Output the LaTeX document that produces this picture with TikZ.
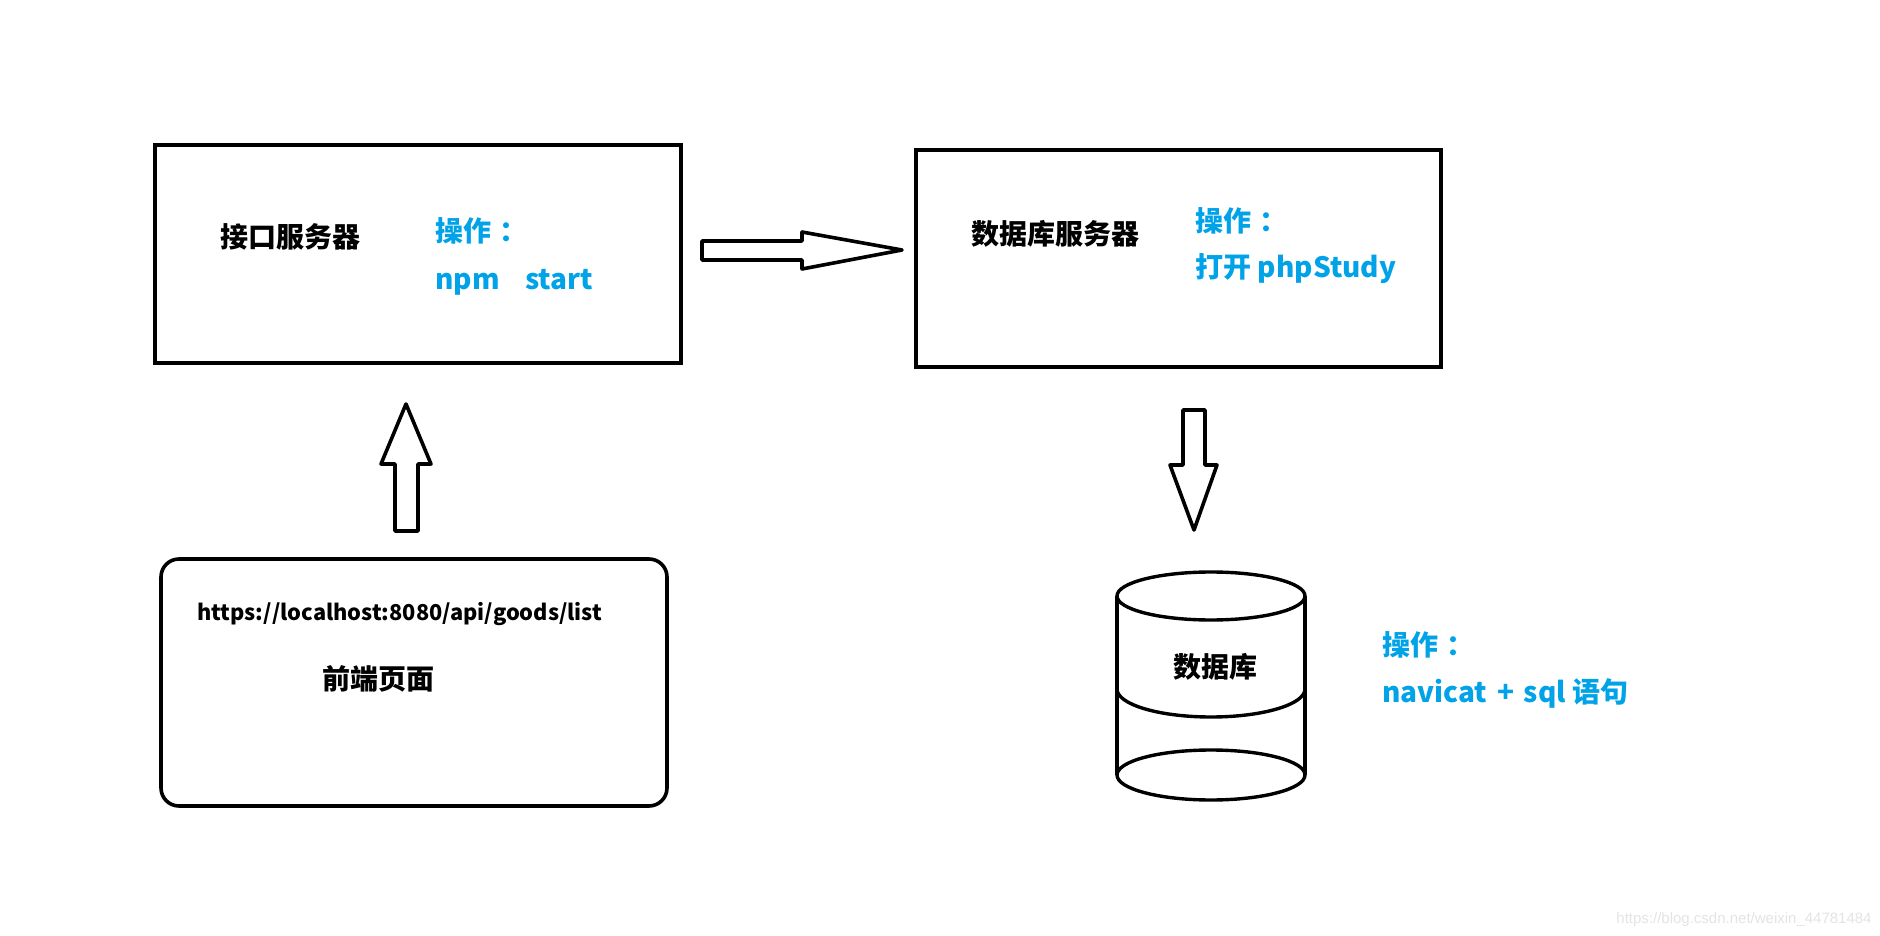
\documentclass[tikz,border=0pt]{standalone}
\usepackage{fontspec}
\setmainfont{Noto Sans CJK SC}
\newfontfamily\wmfont{Liberation Sans}
\tikzset{
  srvbox/.style={draw, line width=2pt, inner sep=0pt},
  pagebox/.style={draw, line width=1.8pt, rounded corners=9pt, inner sep=0pt},
  blockarrow/.style={draw, line width=1.8pt, line join=round, fill=white},
  cyl/.style={draw, line width=1.7pt},
  label/.style={inner sep=0pt, font=\fontsize{14pt}{16pt}\selectfont\bfseries},
  optext/.style={label, anchor=west, color={rgb, 255:red, 0; green, 162; blue, 232 }},
}
\begin{document}
\begin{tikzpicture}[x=0.5pt,y=0.5pt,yscale=-1,xscale=1]
%set diagram left start at 0, and has height of 936
\path[use as bounding box, fill=white] (0,0) rectangle (1880,936);

%Shape: Rectangle
\node[srvbox, minimum width=263pt, minimum height=109pt] (apisrv) at (418,254) {};
%Shape: Rectangle
\node[srvbox, minimum width=262.5pt, minimum height=108.5pt] (dbsrv) at (1178.5,258.5) {};
%Shape: Rounded Rect
\node[pagebox, minimum width=253pt, minimum height=123.5pt] (page) at (414,682.5) {};

%Text
\node[label] (apititle) at (290,237) {接口服务器};
\node[optext] (apiop) at (435,231) {操作\hspace{0.3em}：};
\node[optext] (apicmd) at (435,282) {npm\hspace{0.9em}start};
%Text
\node[label] (dbsrvtitle) at (1055,234) {数据库服务器};
\node[optext] (dbsrvop) at (1195,221) {操作\hspace{0.3em}：};
\node[optext] (dbsrvcmd) at (1195,269) {打开 phpStudy};
%Text
\node[label, anchor=west, font=\fontsize{10.9pt}{12pt}\selectfont\bfseries] (url) at (197,614) {https://localhost:8080/api/goods/list};
\node[label] (pagetitle) at (378,679) {前端页面};

%Block Arrow right
\draw[blockarrow] (702,241) -- (802,241) -- (802,232) -- (902,250) -- (802,269) -- (802,260) -- (702,260) -- cycle ;
%Block Arrow up
\draw[blockarrow] (406,404) -- (431,464) -- (418,464) -- (418,531) -- (395,531) -- (395,464) -- (381,464) -- cycle ;
%Block Arrow down
\draw[blockarrow] (1183,410) -- (1205,410) -- (1205,465) -- (1217,465) -- (1194,530) -- (1170,465) -- (1183,465) -- cycle ;

%Shape: Can
\draw[cyl] (1117,596) -- (1117,775) ;
\draw[cyl] (1305,596) -- (1305,775) ;
\draw[cyl] (1211,596) ellipse (94 and 24) ;
\draw[cyl] (1117,689) arc (180:0:94 and 28) ;
\draw[cyl] (1211,775) ellipse (94 and 25) ;
\node[label] (db) at (1215,667) {数据库};
%Text
\node[optext] (dbop) at (1382,645) {操作\hspace{0.3em}：};
\node[optext] (dbcmd) at (1382,693) {navicat\hspace{0.35em}+\hspace{0.35em}sql 语句};

%Watermark
\node[anchor=east, inner sep=0pt, text={rgb, 255:red, 228; green, 228; blue, 228 }, font=\wmfont\fontsize{7.5pt}{9pt}\selectfont] (mark) at (1872,920) {https://blog.csdn.net/weixin\_44781484};
\end{tikzpicture}
\end{document}
